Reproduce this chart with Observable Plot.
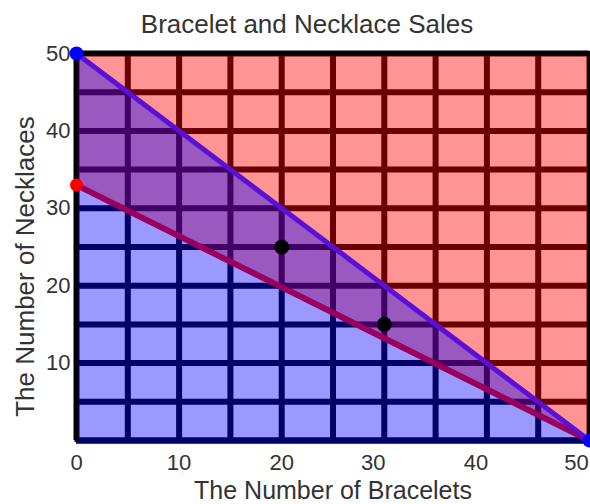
<!DOCTYPE html>
<html><head><meta charset="utf-8">
<script src="https://cdn.jsdelivr.net/npm/d3@7"></script>
<script src="https://cdn.jsdelivr.net/npm/@observablehq/plot@0.6"></script>
<style>
body{margin:0;background:#fff;font-family:"Liberation Sans",Arial,sans-serif;}
#title{height:40px;line-height:48px;text-align:center;font-size:26px;color:#333;padding-left:24px;white-space:nowrap;overflow:visible}
</style></head><body>
<div id="title">Bracelet and Necklace Sales</div>
<div id="chart"></div>
<script>
const xTicks = [0, 10, 20, 30, 40, 50];
const yTicks = [10, 20, 30, 40, 50];
const gridValues = [0, 5, 10, 15, 20, 25, 30, 35, 40, 45, 50];
const blueLineX = [0, 50];
const blueLineY = [50, 0];
const redLineX = [0, 50];
const redLineY = [33, 0];
const solutionX = [20, 30];
const solutionY = [25, 15];
const xLabel = "The Number of Bracelets";
const yLabel = "The Number of Necklaces";
const yMax = 50;

const plot = Plot.plot({
  width: 590, height: 464,
  marginTop: 13, marginBottom: 64, marginLeft: 76, marginRight: 1,
  style: {fontFamily: '"Liberation Sans", Arial, sans-serif', color: "#333", background: "white", overflow: "visible"},
  x: {domain: [0, 50]},
  y: {domain: [0, 50]},
  marks: [
    Plot.ruleX(gridValues, {stroke: "black", strokeWidth: 6}),
    Plot.ruleY(gridValues, {stroke: "black", strokeWidth: 6}),
    Plot.areaY(redLineX, {x: d => d, y1: (d, i) => redLineY[i], y2: () => yMax, fill: "#ff0000", fillOpacity: 0.42}),
    Plot.areaY(blueLineX, {x: d => d, y1: () => 0, y2: (d, i) => blueLineY[i], fill: "#0000ff", fillOpacity: 0.4}),
    Plot.ruleY([0], {stroke: "#000066", strokeWidth: 6}),
    Plot.ruleY([yMax], {stroke: "black", strokeWidth: 5, strokeLinecap: "square"}),
    Plot.ruleX([xTicks[0], xTicks[xTicks.length - 1]], {stroke: "black", strokeWidth: 4, strokeLinecap: "square"}),
    Plot.line(redLineX, {x: d => d, y: (d, i) => redLineY[i], stroke: "#99005e", strokeWidth: 6}),
    Plot.line(blueLineX, {x: d => d, y: (d, i) => blueLineY[i], stroke: "#5a10d8", strokeWidth: 5}),
    Plot.dot(redLineX, {x: d => d, y: (d, i) => redLineY[i], r: 6.5, fill: "#ff0000"}),
    Plot.dot(blueLineX, {x: d => d, y: (d, i) => blueLineY[i], r: 7, fill: "#0000ff"}),
    Plot.dot(solutionX, {x: d => d, y: (d, i) => solutionY[i], r: 7.5, fill: "black"}),
    Plot.axisX(xTicks.slice(0, 3), {tickSize: 0, tickPadding: 14, fontSize: 22, label: null}),
    Plot.axisX(xTicks.slice(3, 5), {tickSize: 0, tickPadding: 14, fontSize: 22, label: null, dx: -11}),
    Plot.axisX(xTicks.slice(5), {tickSize: 0, tickPadding: 14, fontSize: 22, label: null, dx: -13}),
    Plot.axisY(yTicks, {tickSize: 0, tickPadding: 6, fontSize: 22, label: null}),
    Plot.text([xLabel], {frameAnchor: "bottom", dy: 50, fontSize: 25, textAnchor: "middle", lineAnchor: "middle"}),
    Plot.text([yLabel], {frameAnchor: "left", dx: -51, dy: 19.5, rotate: -90, fontSize: 26, textAnchor: "middle", lineAnchor: "middle"})
  ]
});
document.getElementById("chart").appendChild(plot);
</script>
</body></html>
